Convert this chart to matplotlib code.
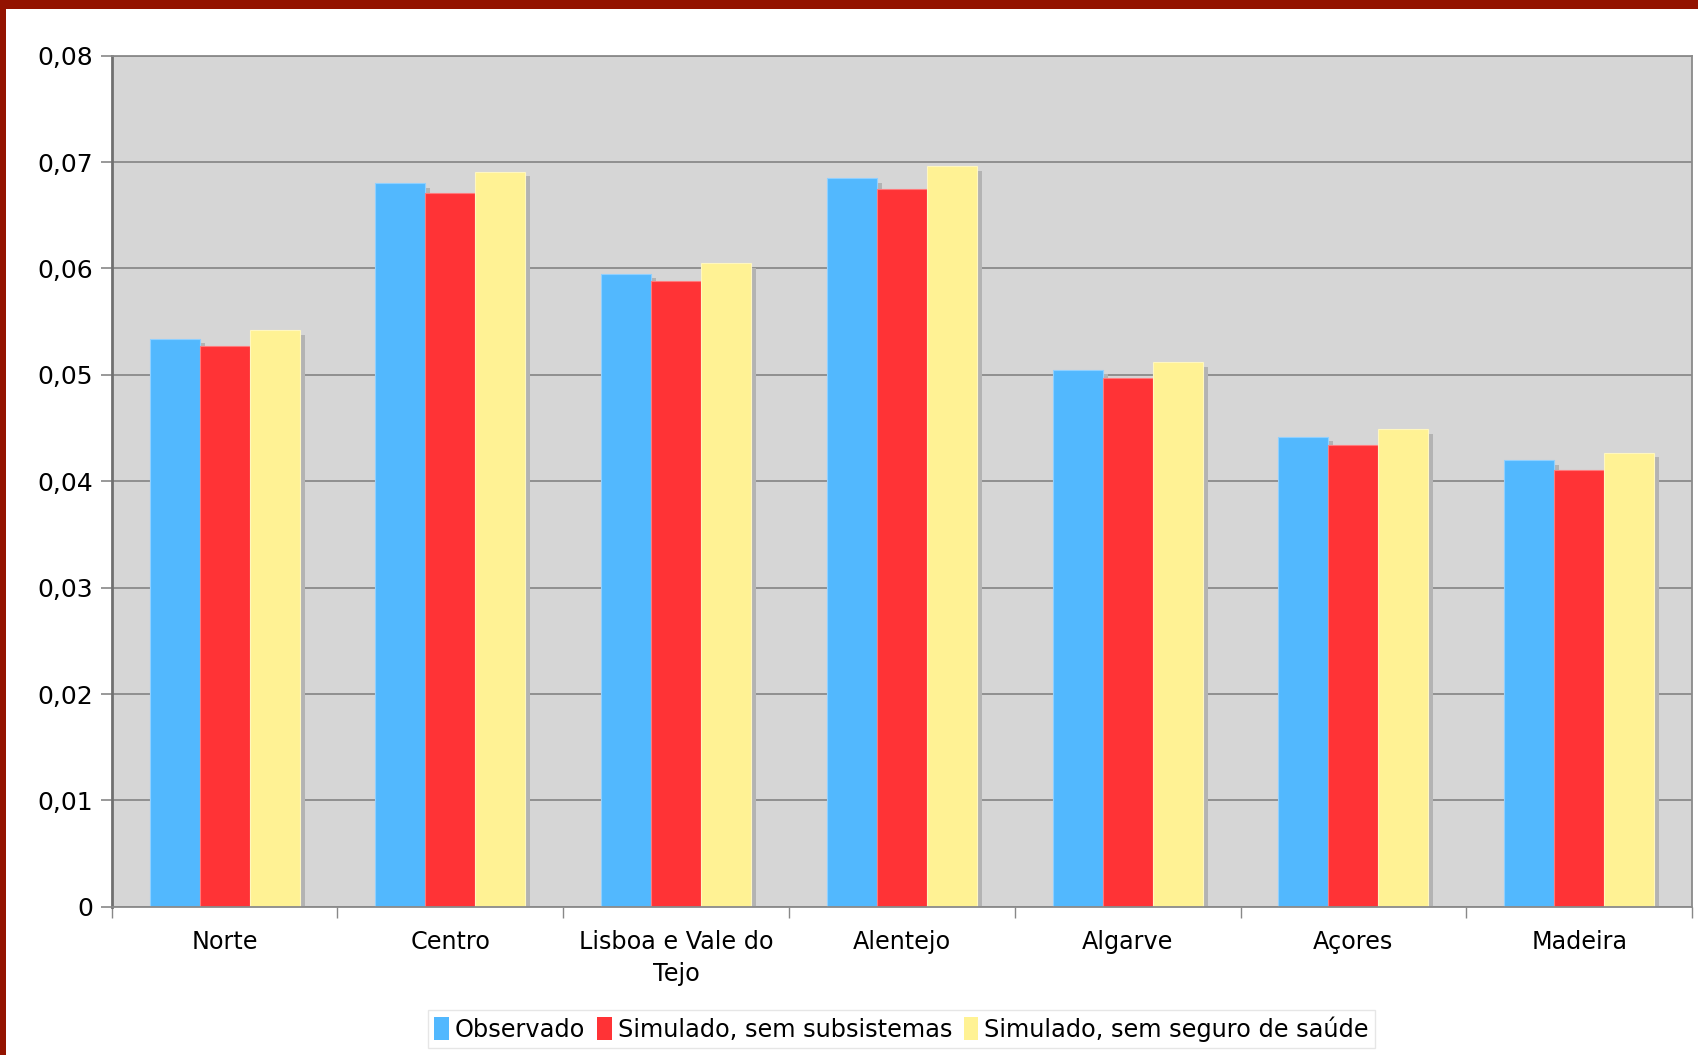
import matplotlib
matplotlib.use("Agg")
import matplotlib.pyplot as plt
import matplotlib.transforms as mtransforms
from matplotlib.patches import Rectangle, Patch
from matplotlib.ticker import FixedLocator, FuncFormatter
import numpy as np

categories = ["Norte", "Centro", "Lisboa e Vale do\nTejo", "Alentejo", "Algarve", "Açores", "Madeira"]
series_names = ["Observado", "Simulado, sem subsistemas", "Simulado, sem seguro de saúde"]
observado = [0.0534, 0.0680, 0.0595, 0.0685, 0.0505, 0.0442, 0.0420]
sem_subsistemas = [0.0527, 0.0671, 0.0588, 0.0675, 0.0497, 0.0434, 0.0411]
sem_seguro = [0.0542, 0.0691, 0.0605, 0.0696, 0.0512, 0.0449, 0.0427]
y_ticks = [0, 0.01, 0.02, 0.03, 0.04, 0.05, 0.06, 0.07, 0.08]

colors = ["#52b8fe", "#ff3336", "#fff294"]
edge_colors = ["#8fd0ff", "#ff7a7c", "#fff7c0"]

plt.rcParams['font.family'] = ['DejaVu Sans']

fig = plt.figure(figsize=(16.98, 10.55), dpi=100)
fig.patch.set_facecolor("white")
ax = fig.add_axes([0.0658, 0.1404, 0.9307, 0.8068])
ax.set_facecolor("#d6d6d6")

x = np.arange(len(categories))
w = 0.2215
data = [observado, sem_subsistemas, sem_seguro]
shadow_tr = mtransforms.offset_copy(ax.transData, fig=fig, x=5, y=-4.5, units='dots')
for i, vals in enumerate(data):
    pos = x + (i - 1) * w
    ax.bar(pos, vals, width=w, color="#b3b3b3", linewidth=0, transform=shadow_tr, zorder=1.5)
for i, vals in enumerate(data):
    pos = x + (i - 1) * w
    ax.bar(pos, vals, width=w, color=colors[i], edgecolor=edge_colors[i], linewidth=0.8, zorder=2)

ax.set_xlim(-0.5, len(categories) - 0.5)
ax.set_ylim(0, 0.08)
ax.set_yticks(y_ticks)
ax.yaxis.set_major_formatter(FuncFormatter(lambda v, p: "0" if abs(v) < 1e-12 else f"{v:.2f}".replace(".", ",")))
ax.grid(axis="y", color="#8a8a8a", linewidth=1.3)
ax.set_axisbelow(True)

ax.xaxis.set_major_locator(FixedLocator(np.arange(-0.5, len(categories), 1.0)))
ax.xaxis.set_major_formatter(FuncFormatter(lambda v, p: ""))
ax.xaxis.set_minor_locator(FixedLocator(x))
ax.set_xticklabels(categories, minor=True)
ax.tick_params(axis="x", which="major", length=8, width=1, color="#888888", direction="out")
ax.tick_params(axis="x", which="minor", length=0, pad=17, labelsize=17.2)
ax.tick_params(axis="y", length=8, width=1.2, color="#888888", pad=5.5, labelsize=18)
for lbl in ax.get_xticklabels(minor=True):
    lbl.set_horizontalalignment("center")
    lbl.set_linespacing(1.37)

for side in ["left", "bottom", "right", "top"]:
    ax.spines[side].set_color("#8a8a8a")
    ax.spines[side].set_linewidth(1.3)
ax.spines["left"].set_color("#707070")
ax.spines["left"].set_linewidth(2)

handles = [Patch(facecolor=c, edgecolor="none") for c in colors]
leg = fig.legend(handles, series_names, loc="center", bbox_to_anchor=(0.531, 0.0245),
                 ncol=3, frameon=True, fontsize=17.3, handlelength=0.6, handleheight=1.1,
                 handletextpad=0.25, columnspacing=0.5, borderpad=0.25, fancybox=False)
leg.get_frame().set_edgecolor("#e0e0e0")
leg.get_frame().set_linewidth(1)

# dark red border on top and left
fig.patches.append(Rectangle((0, 1 - 9 / 1055), 1, 9 / 1055, transform=fig.transFigure,
                             facecolor="#931300", edgecolor="none", zorder=10))
fig.patches.append(Rectangle((0, 0), 6 / 1698, 1, transform=fig.transFigure,
                             facecolor="#931300", edgecolor="none", zorder=10))

fig.savefig("out.png", dpi=100, facecolor="white")
